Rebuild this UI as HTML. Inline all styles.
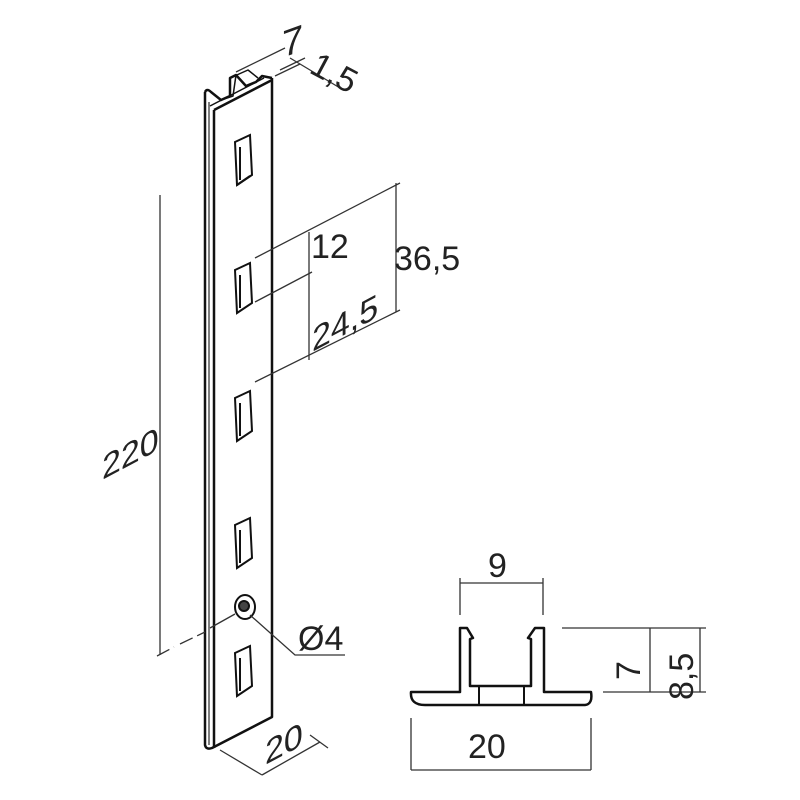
<!DOCTYPE html>
<html><head><style>body{margin:0;background:#fff}svg{display:block}text{font-family:"Liberation Sans",sans-serif;fill:#222}</style></head>
<body>
<svg width="800" height="800" viewBox="0 0 800 800" xmlns="http://www.w3.org/2000/svg">
<g fill="none" stroke="#111" stroke-width="2.5" stroke-linejoin="round">
<path d="M205,92 L205,745 Q206,750 212,748 L272,717 L272,78"/>
<path d="M214,110 L214,748"/>
<path d="M209,102 L209,745" stroke-width="1.5" stroke="#555"/>
<path d="M205,92 Q207,88 211,92 L221,100 L230,96 L230,78 L236,75 L246,86 L256,82 L262,76 L272,78"/>
<path d="M214,110 L272,80"/>
<path d="M210,106 L264,78" stroke-width="1.5"/>
<path d="M221,100 L233,96 L236,75" stroke-width="1.5"/>
<path d="M230,78 L248,70 L258,78" stroke-width="1.5"/>
</g>
<g fill="none" stroke="#111" stroke-width="2">
<path d="M235,142 L250,135 L252,175 L237,185 Z"/><path d="M240,147 L240,180 M237,185 L250,176"/>
<path d="M235,270 L250,263 L252,303 L237,313 Z"/><path d="M240,275 L240,308"/>
<path d="M235,398 L250,391 L252,431 L237,441 Z"/><path d="M240,403 L240,436"/>
<path d="M235,525 L250,518 L252,558 L237,568 Z"/><path d="M240,530 L240,563"/>
<path d="M235,653 L250,646 L252,686 L237,696 Z"/><path d="M240,658 L240,691"/>
<ellipse cx="245" cy="607" rx="10" ry="12"/>
<circle cx="244" cy="606" r="5" fill="#444"/>
</g>
<g fill="none" stroke="#333" stroke-width="1.3">
<path d="M160,195 L160,655"/>
<path d="M157,656 L174,647 M180,644 L205,632" stroke-dasharray="14,5"/>
<path d="M210,628 L235,614"/>
<path d="M255,258 L400,183"/>
<path d="M255,302 L312,272"/>
<path d="M255,382 L400,310"/>
<path d="M396,183 L396,312"/>
<path d="M309,232 L309,360"/>
<path d="M250,615 L295,655 L345,655"/>
<path d="M220,750 L262,775 M262,775 L320,742 M310,735 L328,748"/>
<path d="M236,72 L285,48 M275,76 L300,64 M280,70 L305,58"/>
<path d="M290,58 L340,88"/>
<path d="M460,578 L460,615 M543,578 L543,615 M460,583 L543,583"/>
<path d="M562,628 L706,628 M603,692 L706,692 M650,628 L650,692 M700,628 L700,692"/>
<path d="M411,718 L411,770 M591,718 L591,770 M411,770 L591,770"/>
</g>
<g fill="none" stroke="#111" stroke-width="2.5" stroke-linejoin="round">
<path d="M411,692 Q410,705 425,705 L585,705 Q593,704 591,692 L544,692 L544,628 L535,628 L528,638 L531,639 L531,686 L470,686 L470,639 L473,638 L467,628 L460,628 L460,692 Z"/>
<path d="M479,686 L479,705 M524,686 L524,705" stroke-width="2"/>
</g>
<g font-size="34">
<text transform="translate(102,480) skewY(-28)">220</text>
<text x="394" y="270">36,5</text>
<text x="311" y="258">12</text>
<text transform="translate(312,352) skewY(-28)">24,5</text>
<text transform="translate(282,58) skewY(-20)" font-size="38">7</text>
<text transform="translate(308,72) rotate(28)">1,5</text>
<text transform="translate(265,765) skewY(-28)">20</text>
<text x="298" y="650">Ø4</text>
<text x="488" y="577">9</text>
<text x="468" y="758">20</text>
<text transform="translate(640,680) rotate(-90)">7</text>
<text transform="translate(693,700) rotate(-90)">8,5</text>
</g>
</svg>
</body></html>
